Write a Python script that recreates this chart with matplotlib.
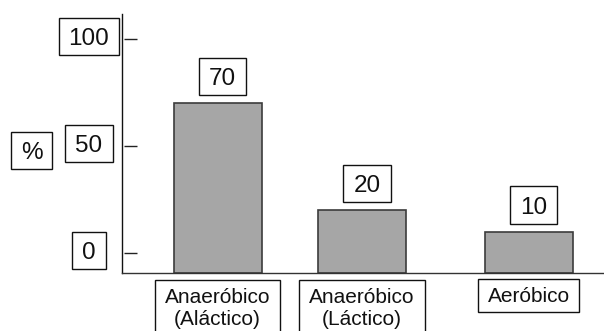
import matplotlib
matplotlib.use("Agg")
import matplotlib.pyplot as plt
import matplotlib.transforms as mtransforms
from matplotlib.path import Path

plt.rcParams['font.family'] = ['Liberation Sans', 'DejaVu Sans']

# Data
categories = ["Anaeróbico\n(Aláctico)", "Anaeróbico\n(Láctico)", "Aeróbico"]
values = [70, 20, 10]
y_ticks = [0, 50, 100]
y_tick_labels = ["0", "50", "100"]
y_unit = "%"

# Layout
positions = [0.0, 1.0, 2.154]
bar_width = 0.61
y_floor = -9.3
y_top = 111.7

W, H, DPI = 604, 331, 100
fig = plt.figure(figsize=(W / DPI, H / DPI), dpi=DPI)
ax = fig.add_axes([122 / W, 1 - 273 / H, 1 - 122 / W, (273 - 14) / H])
ax.set_xlim(-0.663, 2.677)
ax.set_ylim(y_floor, y_top)

bar_color = "#a6a6a6"
edge_color = "#3c3c3c"
ax.bar(positions, [v - y_floor for v in values], bottom=y_floor, width=bar_width,
       color=bar_color, edgecolor=edge_color, linewidth=1.2, zorder=2)

for s in ("top", "right"):
    ax.spines[s].set_visible(False)
ax.spines["left"].set_linewidth(1.0)
ax.spines["left"].set_color("#111111")
ax.spines["bottom"].set_linewidth(1.0)
ax.spines["bottom"].set_color("#333333")
ax.set_xticks([])
ax.set_yticks([])


def frame(hp, pb, pt):
    """Rectangular label frame with separate horizontal, bottom and top padding."""
    def style(x0, y0, width, height, ms):
        l, r = x0 - hp * ms, x0 + width + hp * ms
        b, t = y0 - pb * ms, y0 + height + pt * ms
        return Path([(l, b), (r, b), (r, t), (l, t), (l, b)], closed=True)
    return style


num_box = dict(boxstyle=frame(0.41, 0.20, 0.43), facecolor="white",
               edgecolor="#111111", linewidth=1.0)
cat_box = dict(boxstyle=frame(0.47, 0.27, 0.39), facecolor="white",
               edgecolor="#111111", linewidth=1.0)
num_fs = 17.5
cat_fs = 15
txt = "#111111"

# Y ticks: short marks inside the axis with boxed labels to the left
blend = mtransforms.blended_transform_factory(ax.transAxes, ax.transData)
ax.hlines(y_ticks, 0.005, 0.031, transform=blend, color="#222222", linewidth=1.0)
for t, lab in zip(y_ticks, y_tick_labels):
    ax.annotate(lab, xy=(0, t), xycoords=blend, xytext=(-33, -6),
                textcoords="offset pixels", ha="center", va="baseline",
                fontsize=num_fs, bbox=num_box, color=txt, annotation_clip=False)

# Unit label
fig.text(31.5 / W, 1 - 159.3 / H, y_unit, ha="center", va="baseline",
         fontsize=num_fs, bbox=num_box, color=txt)

# Value labels above bars
for x, v in zip(positions, values):
    ax.annotate(str(v), xy=(x, v), xytext=(5, 18), textcoords="offset pixels",
                ha="center", va="baseline", fontsize=num_fs, bbox=num_box, color=txt)

# Category labels below the baseline (first line's baseline ~29 px under the axis)
line_step = 23
xblend = mtransforms.blended_transform_factory(ax.transData, ax.transAxes)
for x, c in zip(positions, categories):
    extra = line_step * c.count("\n")
    ax.annotate(c, xy=(x, 0), xycoords=xblend, xytext=(0, -29 - extra),
                textcoords="offset pixels", ha="center", va="baseline",
                fontsize=cat_fs, linespacing=1.2, bbox=cat_box, color=txt,
                annotation_clip=False)

fig.savefig("out.png", dpi=DPI)
